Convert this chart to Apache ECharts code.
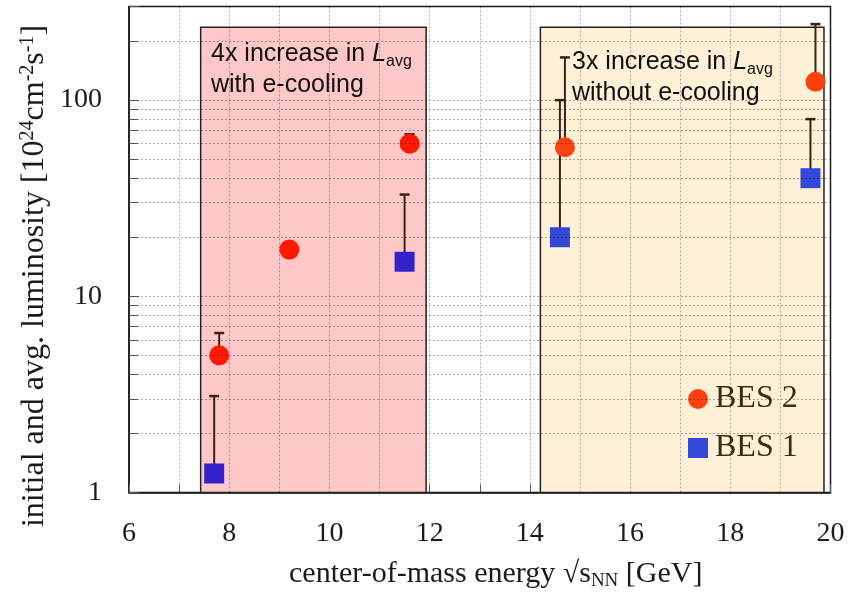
<!DOCTYPE html>
<html><head><meta charset="utf-8">
<script src="https://cdn.jsdelivr.net/npm/echarts@6/dist/echarts.min.js"></script>
<style>html,body{margin:0;padding:0;background:#fff}#c{width:865px;height:592px}</style>
</head><body><div id="c"></div>
<script>
// ---- data ----
const bes1Energy = [7.7, 11.5, 14.6, 19.6];
const bes1Lumi   = [1.25, 15, 20, 40];
const bes1Upper  = [3.1, 33, 100, 80];
const bes2Energy = [7.8, 9.2, 11.6, 14.7, 19.7];
const bes2Lumi   = [5, 17.3, 60, 57.5, 124];
const bes2Upper  = [6.5, null, 67, 165, 244];
const xTicks = [6, 8, 10, 12, 14, 16, 18, 20];
const xGridValues = [7, 8, 9, 10, 11, 12, 13, 14, 15, 16, 17, 18, 19];
const yGridValues = [2, 3, 4, 5, 6, 7, 8, 9, 10, 20, 30, 40, 50, 60, 70, 80, 90, 100, 200];
const regionCooling = [7.43, 11.93, 1, 235];
const regionNoCooling = [14.21, 19.87, 1, 235];

const serif = '"Liberation Serif","Times New Roman",serif';
const sans = '"Liberation Sans",Arial,sans-serif';
const xMin = 6, xMax = 20, yMin = 1, yMax = 300;

const bes1Points = bes1Energy.map((x, i) => [x, bes1Lumi[i]]);
const bes2Points = bes2Energy.map((x, i) => [x, bes2Lumi[i]]);
const errData = [];
bes1Energy.forEach((x, i) => { if (bes1Upper[i] != null) errData.push([x, bes1Lumi[i], bes1Upper[i]]); });
bes2Energy.forEach((x, i) => { if (bes2Upper[i] != null) errData.push([x, bes2Lumi[i], bes2Upper[i]]); });

const gridStyle = { color: 'rgba(0,0,0,0.32)', width: 1, type: [2, 2] };
const gridLines = [];
xGridValues.forEach(v => gridLines.push({ xAxis: v }));
yGridValues.forEach(v => gridLines.push({ yAxis: v }));
const minorTicks = yGridValues.map(v => [{ coord: [xMin, v] }, { coord: [xMin + 0.18, v] }]);

function errRender(params, api) {
  const x = api.value(0), y = api.value(1), hi = api.value(2);
  const p0 = api.coord([x, y]), p1 = api.coord([x, hi]);
  const hw = 5, col = '#3a2414';
  return { type: 'group', children: [
    { type: 'line', shape: { x1: p0[0], y1: p0[1], x2: p1[0], y2: p1[1] }, style: { stroke: col, lineWidth: 2 } },
    { type: 'line', shape: { x1: p1[0] - hw, y1: p1[1], x2: p1[0] + hw, y2: p1[1] }, style: { stroke: col, lineWidth: 2.5 } }
  ]};
}

const annRich = {
  i: { font: 'italic 25px ' + sans, fill: '#111' },
  sub: { font: '16px ' + sans, fill: '#111', verticalAlign: 'bottom', padding: [9, 0, 0, 0] }
};

const chart = echarts.init(document.getElementById('c'), null, { renderer: 'canvas' });
chart.setOption({
  animation: false,
  backgroundColor: '#fff',
  grid: { left: 129, right: 34.5, top: 6.5, bottom: 99.5, containLabel: false, outerBoundsMode: 'none',
    show: true, borderColor: '#1a1a1a', borderWidth: 1.5, backgroundColor: 'transparent' },
  xAxis: {
    type: 'value', min: xMin, max: xMax, interval: 1,
    axisLine: { show: true, lineStyle: { color: '#1a1a1a', width: 1.5 } },
    axisTick: { show: true, inside: true, length: 8, lineStyle: { color: '#666' } },
    splitLine: { show: false },
    axisLabel: { margin: 27, fontFamily: serif, fontSize: 28, color: '#1a1a1a',
      formatter: v => (xTicks.indexOf(v) >= 0 ? String(v) : '') },
    name: 'center-of-mass energy √s{sub|NN} [GeV]',
    nameLocation: 'middle', nameGap: 66,
    nameTextStyle: { fontFamily: serif, fontSize: 30, color: '#1a1a1a', padding: [0, 0, 0, 32],
      rich: { sub: { fontFamily: serif, fontSize: 19, verticalAlign: 'bottom', padding: [13, 0, 0, 0] } } }
  },
  yAxis: {
    type: 'log', logBase: 10, min: yMin, max: yMax,
    axisLine: { show: true, lineStyle: { color: '#1a1a1a', width: 1.5 } },
    axisTick: { show: true, inside: true, length: 10, lineStyle: { color: '#555' } },
    splitLine: { show: false },
    axisLabel: { margin: 27, fontFamily: serif, fontSize: 28, color: '#1a1a1a',
      formatter: v => ([1, 10, 100].indexOf(Math.round(v)) >= 0 ? String(Math.round(v)) : '') }
  },
  legend: {
    orient: 'vertical', left: 688, top: 383, padding: 0, itemWidth: 20, itemHeight: 20, itemGap: 17,
    itemStyle: { borderWidth: 0 },
    textStyle: { fontFamily: serif, fontSize: 32, color: '#3b2d12', padding: [8, 0, 0, 2] },
    data: [{ name: 'BES 2', icon: 'circle', itemStyle: { color: '#ff4010', opacity: 1 } }, { name: 'BES 1', icon: 'rect', itemStyle: { color: '#3348d8', opacity: 1 } }]
  },
  graphic: [
    { type: 'text', x: 35, y: 276, rotation: Math.PI / 2, z: 100,
      style: { text: 'initial and avg. luminosity [10{sup|24}cm{sup|-2}s{sup|-1}]', font: '32px ' + serif, fill: '#1a1a1a',
        align: 'center', verticalAlign: 'middle',
        rich: { sup: { font: '20px ' + serif, fill: '#1a1a1a', verticalAlign: 'top', padding: [0, 0, 14, 0] } } } },
    { type: 'text', x: 211, y: 39, z: 100,
      style: { text: '4x increase in {i|L}{sub|avg}\nwith e-cooling', font: '25px ' + sans, fill: '#111', lineHeight: 31, rich: annRich } },
    { type: 'text', x: 572, y: 47, z: 100,
      style: { text: '3x increase in {i|L}{sub|avg}\nwithout e-cooling', font: '25px ' + sans, fill: '#111', lineHeight: 31, rich: annRich } }
  ],
  series: [
    { type: 'line', name: 'regions', data: [], z: 1, silent: true,
      markArea: { silent: true, data: [
        [{ coord: [regionCooling[0], regionCooling[2]], itemStyle: { color: '#ffc8c8', borderColor: '#222', borderWidth: 1.5, opacity: 1 } }, { coord: [regionCooling[1], regionCooling[3]] }],
        [{ coord: [regionNoCooling[0], regionNoCooling[2]], itemStyle: { color: '#fff0d8', borderColor: '#222', borderWidth: 1.5, opacity: 1 } }, { coord: [regionNoCooling[1], regionNoCooling[3]] }]
      ] } },
    { type: 'line', name: 'grid', data: [], z: 2, silent: true,
      markLine: { silent: true, symbol: 'none', label: { show: false }, lineStyle: gridStyle, data: gridLines } },
    { type: 'line', name: 'minorTicks', data: [], z: 2, silent: true,
      markLine: { silent: true, symbol: 'none', label: { show: false }, lineStyle: { color: '#555', width: 1, type: 'solid' }, data: minorTicks } },
    { type: 'custom', name: 'err', z: 3, renderItem: errRender, encode: { x: 0, y: [1, 2] }, data: errData, silent: true },
    { type: 'scatter', name: 'BES 2', z: 4, symbol: 'circle', symbolSize: 20, data: bes2Points,
      itemStyle: { opacity: 1, color: p => (p.value[0] < 13 ? '#ff1a00' : '#ff4010') } },
    { type: 'scatter', name: 'BES 1', z: 4, symbol: 'rect', symbolSize: 20, data: bes1Points,
      itemStyle: { opacity: 1, color: p => (p.value[0] < 13 ? '#3322cc' : '#3348d8') } }
  ]
});
</script></body></html>
